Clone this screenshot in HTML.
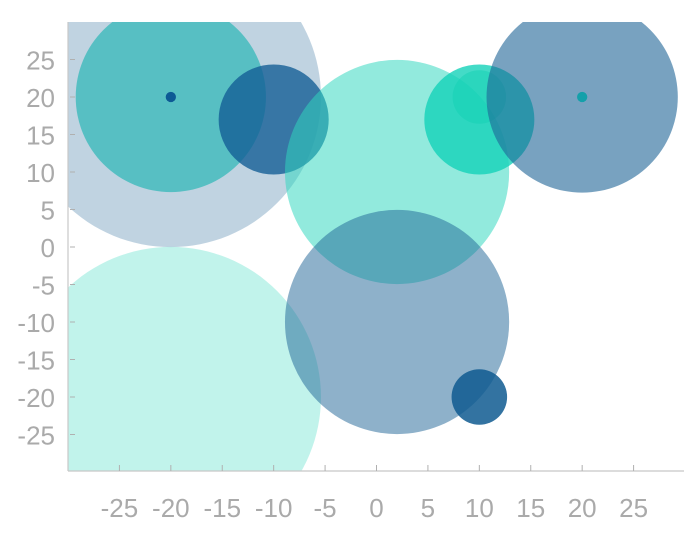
<!DOCTYPE html>
<html><head><meta charset="utf-8"><style>
html,body{margin:0;padding:0;background:#fff;}
svg{display:block;font-family:"Liberation Sans",sans-serif;}
</style></head><body>
<svg id="chart" width="684" height="548" viewBox="0 0 684 548">
<defs><clipPath id="plotclip"><rect x="68" y="22" width="617" height="449"/></clipPath></defs>
<g id="bubbles" clip-path="url(#plotclip)"></g>
<g id="axes"></g>
</svg>
<script>
const xs = [-20, -20, -20, -10, -20, 2, 2, 10, 10, 20, 20, 10];
const ys = [20, 20, 20, 17, -20, 10, -10, 17, 20, 20, 20, -20];
const rs = [14.6, 9.25, 0.5, 5.35, 14.6, 10.9, 10.9, 5.35, 2.6, 9.3, 0.5, 2.7];
const fills = ['rgba(46,110,155,0.3)','rgba(43,183,183,0.7)','#0d5a95','rgba(20,95,150,0.8)','rgba(50,215,190,0.3)','rgba(50,215,190,0.53)','rgba(30,100,150,0.5)','rgba(20,210,185,0.8)','rgba(20,210,180,0.5)','rgba(30,100,150,0.6)','rgb(20,160,170)','rgba(15,90,145,0.85)'];
const xTicks = [-25,-20,-15,-10,-5,0,5,10,15,20,25];
const yTicks = [25,20,15,10,5,0,-5,-10,-15,-20,-25];
const NS='http://www.w3.org/2000/svg';
const X0=68,X1=685,Y0=22,Y1=472;
function sx(v){return X0+(v+30)/60*(X1-X0);}
function sy(v){return Y1-(v+30)/60*(Y1-Y0);}
function sr(r){return r*(X1-X0)/60;}
const bg=document.getElementById('bubbles');
for(let i=0;i<xs.length;i++){
  const c=document.createElementNS(NS,'circle');
  c.setAttribute('cx',sx(xs[i]));c.setAttribute('cy',sy(ys[i]));c.setAttribute('r',sr(rs[i]));
  c.setAttribute('fill',fills[i]);
  
  
  bg.appendChild(c);
}
const ax=document.getElementById('axes');
function el(tag,attrs,txt){const e=document.createElementNS(NS,tag);for(const k in attrs)e.setAttribute(k,attrs[k]);if(txt!==undefined)e.textContent=txt;ax.appendChild(e);return e;}
const yl=el('line',{x1:68,y1:22,x2:68,y2:471,stroke:'#c8c8c8','stroke-width':1.2});


const xl=el('line',{x1:68,y1:471,x2:684,y2:471,stroke:'#c8c8c8','stroke-width':1.2});


xTicks.forEach(t=>{
  const tk=el('line',{x1:sx(t),y1:465,x2:sx(t),y2:471,stroke:'#b0b0b0','stroke-width':1});
  
  
  const lb=el('text',{x:sx(t),y:517,'text-anchor':'middle','font-size':26,fill:'#aaaaaa'},String(t));
  
  
});
yTicks.forEach(t=>{
  const tk=el('line',{x1:70,y1:sy(t),x2:75,y2:sy(t),stroke:'#b0b0b0','stroke-width':1});
  
  
  const lb=el('text',{x:55,y:sy(t)+10,'text-anchor':'end','font-size':26,fill:'#aaaaaa'},String(t));
  
  
});
</script>
</body></html>
